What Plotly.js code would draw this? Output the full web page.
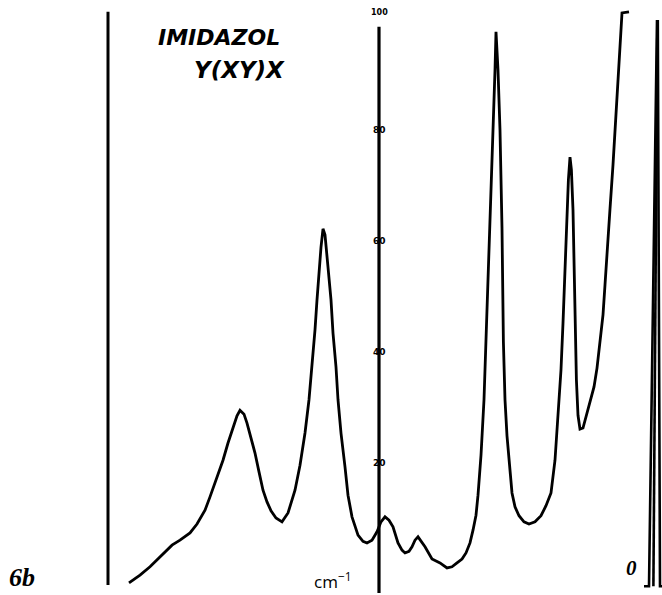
<!DOCTYPE html>
<html>
<head>
<meta charset="utf-8">
<script src="https://cdn.plot.ly/plotly-3.0.1.min.js"></script>
<style>html,body{margin:0;padding:0;background:#fff;}#chart{width:662px;height:595px;}</style>
</head>
<body>
<div id="chart"></div>
<script>
// Raman spectrum of imidazole, Y(XY)X geometry. Wavenumber shift (cm^-1), relative intensity.
const wavenumber = [263,257.5,252.5,247.5,241.5,237.5,232.5,229,225,222.5,219,216,213.5,211,209,207.5,205.5,204,202,200,198,196,194,192,189.5,186.5,183.5,180,177.5,175,173,171.5,170,169,168,167,166,165,163.5,162,161,159.5,158.5,157,155,153.5,151.5,148.5,146,144,141.5,139,137,135,133,131,128.5,126.5,125,123,121.5,120,118.5,117,115,111.5,107.5,104,101.5,99,96.5,94.5,92.5,91,89.5,88.5,87,85.5,84.5,83.5,82,81,80,79.5,78.5,77.5,76.5,75.8,75,74,72.5,71.5,70,68,65.5,63,60,57,54.5,52,50,48.5,47,46,45,44,43.3,42.5,41.8,41,40.5,40,39.3,38.5,37.5,36,34.5,32.5,30.5,29,27.5,26,25,23.5,22.5,21,20,18.5,17.5,16.5,13];
const intensity = [-1.6,-0.2,1.3,3.1,5.2,6.1,7.4,9.0,11.5,13.9,17.3,20.5,23.6,26.5,28.5,29.5,28.8,27.2,24.7,21.8,18.4,15.1,13.0,11.4,10.1,9.4,11.0,15.1,19.6,25.4,31.4,37.3,44.0,49.4,54.8,58.9,62.2,61.1,55.3,49.4,43.4,37.3,31.4,25.4,19.3,14.2,10.3,7.0,5.9,5.6,6.1,7.6,9.4,10.3,9.7,8.5,5.6,4.3,3.8,4.1,4.9,6.1,6.7,5.9,4.9,2.7,2.0,1.1,1.3,2.0,2.7,3.8,5.6,7.9,10.6,14.2,21.4,31.4,41.8,53.0,67.4,80.0,90.8,97.7,90.8,80.0,62.3,41.8,31.4,24.9,18.7,14.6,12.1,10.5,9.4,9.0,9.4,10.5,12.3,14.6,20.5,28.3,36.8,45.2,54.8,64.7,71.0,75.1,72.8,65.6,54.8,44.0,35.0,28.6,26.1,26.3,28.3,30.8,33.7,37.1,41.8,46.7,52.1,59.3,65.8,73.7,80.0,88.1,95.3,101.1,101.3];

// Exciting (laser) line near 0 cm^-1, pen strokes
const laserX = [-1, 3.0, 5.5, null, -1.2, 0.8, null, -1.4, -2.5, -3.5];
const laserY = [99.8, -2.2, -2.2, null, 99.8, -2.2, null, 99.8, -2.2, -2.2];

// Recorder frame marks
const leftLimitX = [273.5, 273.5];
const leftLimitY = [101.3, -2.0];
const scaleAxisX = 138;
const scaleAxisY = [98.6, -3.4];

// Intensity scale drawn on the chart
const tickValues = [20, 40, 60, 80, 100];
const tickLabels = ['20', '40', '60', '80', '100'];

const traces = [
  {x: wavenumber, y: intensity, mode: 'lines', line: {color: '#000', width: 2.8}, hoverinfo: 'skip'},
  {x: laserX, y: laserY, mode: 'lines', line: {color: '#000', width: 2.6}, connectgaps: false, hoverinfo: 'skip'},
  {x: leftLimitX, y: leftLimitY, mode: 'lines', line: {color: '#000', width: 3}, hoverinfo: 'skip'},
  {x: [scaleAxisX, scaleAxisX], y: scaleAxisY, mode: 'lines', line: {color: '#000', width: 3.2}, hoverinfo: 'skip'}
];

const annotations = [];
tickValues.forEach((v, i) => {
  const top = v === 100;
  annotations.push({
    x: scaleAxisX, y: v, xref: 'x', yref: 'y',
    text: '<b>' + tickLabels[i] + '</b>', showarrow: false,
    xanchor: 'center', yanchor: top ? 'bottom' : 'middle',
    font: {family: 'DejaVu Sans', size: top ? 8 : 9, color: '#000'}
  });
});
annotations.push(
  {x: 156/662, y: 1 - 37/595, xref: 'paper', yref: 'paper', xanchor: 'left', yanchor: 'middle', showarrow: false,
   text: '<i>IMIDAZOL</i>', font: {family: 'DejaVu Sans', size: 22, weight: 700, color: '#000'}},
  {x: 192/662, y: 1 - 70/595, xref: 'paper', yref: 'paper', xanchor: 'left', yanchor: 'middle', showarrow: false,
   text: '<i>Y(XY)X</i>', font: {family: 'DejaVu Sans', size: 23, weight: 700, color: '#000'}},
  {x: 333/662, y: 1 - 580/595, xref: 'paper', yref: 'paper', xanchor: 'center', yanchor: 'middle', showarrow: false,
   text: 'cm<sup>−1</sup>', font: {family: 'Open Sans', size: 17, color: '#000'}},
  {x: 22/662, y: 1 - 577/595, xref: 'paper', yref: 'paper', xanchor: 'center', yanchor: 'middle', showarrow: false,
   text: '<i>6b</i>', font: {family: 'Liberation Serif', size: 26, weight: 600, color: '#000'}},
  {x: 631/662, y: 1 - 568/595, xref: 'paper', yref: 'paper', xanchor: 'center', yanchor: 'middle', showarrow: false,
   text: '<b><i>0</i></b>', font: {family: 'Liberation Serif', size: 21, color: '#000'}}
);

const layout = {
  width: 662, height: 595,
  margin: {l: 0, r: 0, t: 0, b: 0},
  paper_bgcolor: '#fff', plot_bgcolor: '#fff',
  showlegend: false,
  xaxis: {range: [327.5, -3.5], visible: false, fixedrange: true},
  yaxis: {range: [-3.78, 103.42], visible: false, fixedrange: true},
  annotations: annotations
};

Plotly.newPlot('chart', traces, layout, {displayModeBar: false, staticPlot: true});
</script>
</body>
</html>
